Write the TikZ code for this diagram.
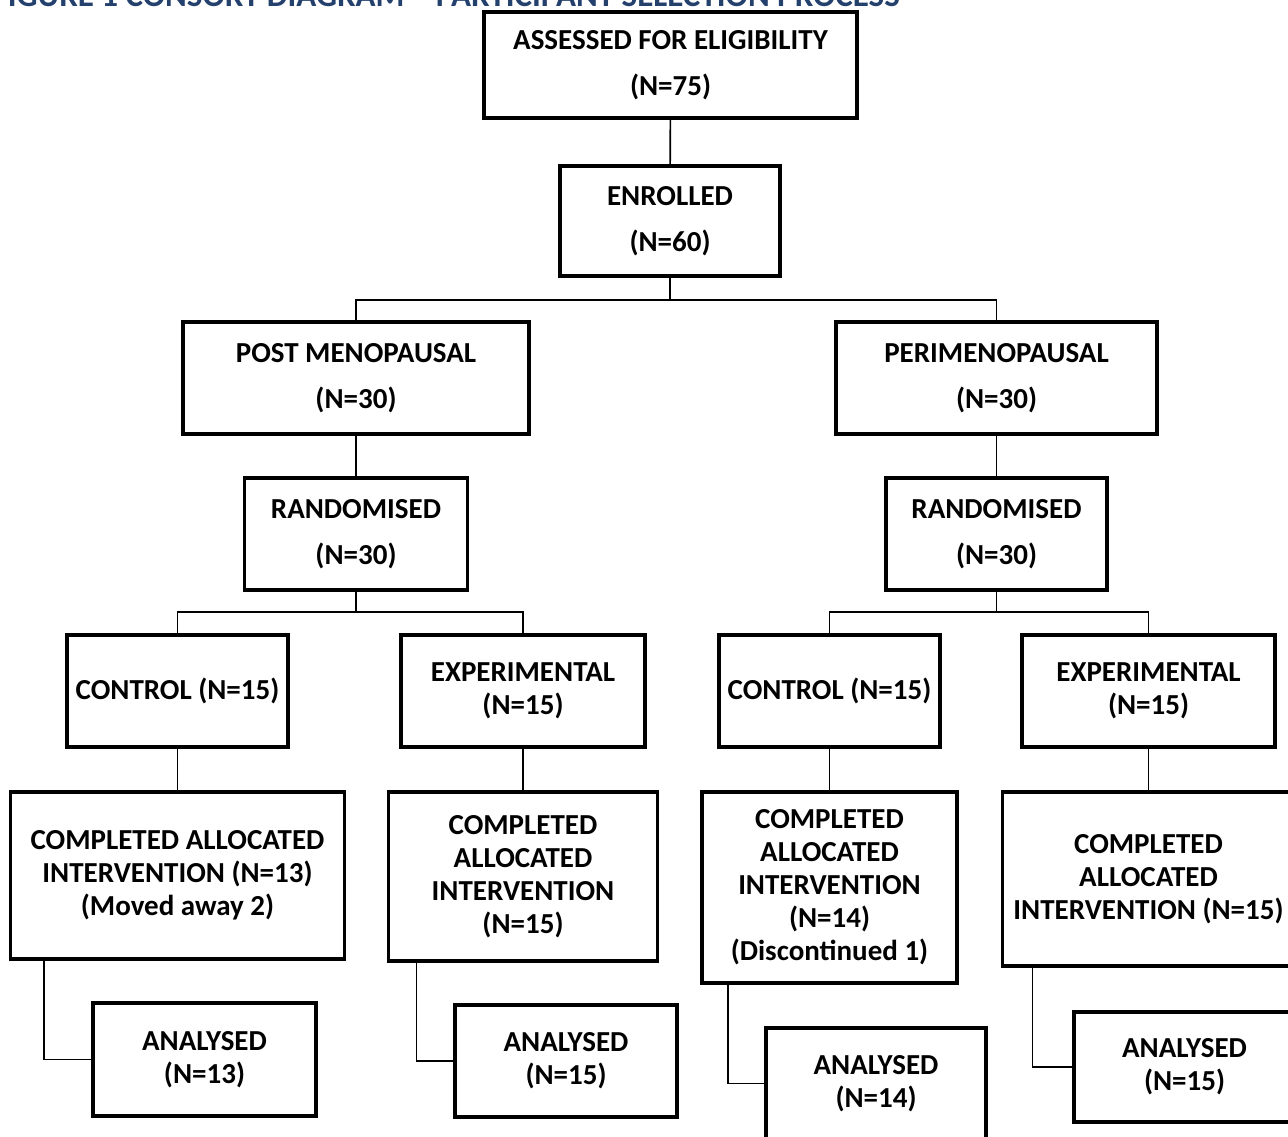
\documentclass[tikz,border=0pt]{standalone}
\usepackage{fontspec}
\setmainfont{Carlito}
\usepackage{tikz}
\definecolor{headblue}{RGB}{36,64,108}

\tikzset{
  box/.style={draw, line width=3.2pt, inner sep=0pt, outer sep=0pt, align=center,
    font=\fontsize{29}{33}\selectfont\bfseries},
  tallgap/.style={font=\fontsize{29}{46}\selectfont\bfseries},
  link/.style={line width=1.6pt}
}

\begin{document}
\begin{tikzpicture}[x=1pt,y=1pt,yscale=-1]
\useasboundingbox (0,0) rectangle (1288,1137);

% Title (cut by the page edge)
\node[anchor=base east, inner sep=0pt, text=headblue, font=\fontsize{33}{36}\selectfont\bfseries] (title) at (900,7) {FIGURE 1 CONSORT DIAGRAM -- PARTICIPANT SELECTION PROCESS};

% Top boxes
\node[box, tallgap, minimum width=373pt, minimum height=106pt] (assessed) at (670.5,65) {ASSESSED FOR ELIGIBILITY\\(N=75)};
\node[box, tallgap, minimum width=220pt, minimum height=110pt] (enrolled) at (670,221) {ENROLLED\\(N=60)};
\node[box, tallgap, minimum width=346pt, minimum height=112pt] (postmeno) at (356,378) {POST MENOPAUSAL\\(N=30)};
\node[box, tallgap, minimum width=321pt, minimum height=112pt] (perimeno) at (996.5,378) {PERIMENOPAUSAL\\(N=30)};
\node[box, tallgap, minimum width=223pt, minimum height=112pt] (randleft) at (356,534) {RANDOMISED\\(N=30)};
\node[box, tallgap, minimum width=221pt, minimum height=112pt] (randright) at (996.5,534) {RANDOMISED\\(N=30)};

% Groups
\node[box, minimum width=221pt, minimum height=112pt] (ctrlleft) at (177.5,691) {CONTROL (N=15)};
\node[box, minimum width=244pt, minimum height=112pt] (expleft) at (523,691) {EXPERIMENTAL\\(N=15)};
\node[box, minimum width=221pt, minimum height=112pt] (ctrlright) at (829.5,691) {CONTROL (N=15)};
\node[box, minimum width=253pt, minimum height=112pt] (expright) at (1148.5,691) {EXPERIMENTAL\\(N=15)};

% Completed
\node[box, minimum width=334pt, minimum height=167pt] (doneA) at (177.5,875.5) {COMPLETED ALLOCATED\\INTERVENTION (N=13)\\(Moved away 2)};
\node[box, minimum width=269pt, minimum height=169pt] (doneB) at (523,876.5) {COMPLETED\\ALLOCATED\\INTERVENTION\\(N=15)};
\node[box, minimum width=255pt, minimum height=191pt] (doneC) at (829.5,887.5) {COMPLETED\\ALLOCATED\\INTERVENTION\\(N=14)\\(Discontinued 1)};
\node[box, minimum width=292pt, minimum height=174pt] (doneD) at (1148.5,879) {COMPLETED\\ALLOCATED\\INTERVENTION (N=15)};

% Analysed
\node[box, minimum width=223pt, minimum height=113pt] (anaA) at (204.5,1059.5) {ANALYSED\\(N=13)};
\node[box, minimum width=222pt, minimum height=112pt] (anaB) at (566,1061) {ANALYSED\\(N=15)};
\node[box, minimum width=220pt, minimum height=111pt] (anaC) at (876,1083.5) {ANALYSED\\(N=14)};
\node[box, minimum width=221pt, minimum height=110pt] (anaD) at (1184.5,1067) {ANALYSED\\(N=15)};

% Split points
\coordinate (splitTop) at (670,300);
\coordinate (splitL) at (356,612);
\coordinate (splitR) at (996.5,612);

%Lines
\draw[link] (assessed) -- (enrolled);
\draw[link] (enrolled) -- (splitTop);
\draw[link] (postmeno.north) |- (splitTop) -| (perimeno.north);
\draw[link] (postmeno) -- (randleft);
\draw[link] (perimeno) -- (randright);
\draw[link] (randleft) -- (splitL);
\draw[link] (ctrlleft.north) |- (splitL) -| (expleft.north);
\draw[link] (randright) -- (splitR);
\draw[link] (ctrlright.north) |- (splitR) -| (expright.north);
\draw[link] (ctrlleft) -- (doneA);
\draw[link] (expleft) -- (doneB);
\draw[link] (ctrlright) -- (doneC);
\draw[link] (expright) -- (doneD);
\draw[link] ([xshift=33.5pt]doneA.south west) |- (anaA.west);
\draw[link] ([xshift=28pt]doneB.south west) |- (anaB.west);
\draw[link] ([xshift=26pt]doneC.south west) |- (anaC.west);
\draw[link] ([xshift=30pt]doneD.south west) |- (anaD.west);

\end{tikzpicture}
\end{document}
